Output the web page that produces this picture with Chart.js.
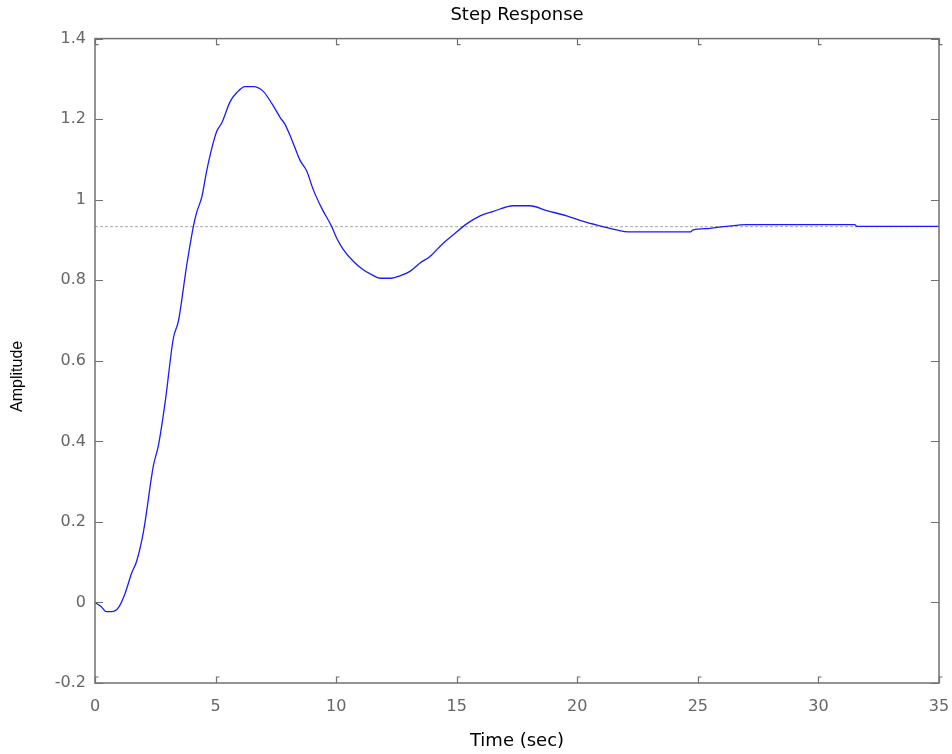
<!DOCTYPE html>
<html>
<head>
<meta charset="utf-8">
<title>Step Response</title>
<script src="https://cdn.jsdelivr.net/npm/chart.js@4"></script>
<style>
  html, body { margin: 0; padding: 0; background: #fff; }
  #wrap { width: 952px; height: 754px; }
</style>
</head>
<body>
<div id="wrap"><canvas id="stepChart" width="952" height="754"></canvas></div>
<script>
// Values
const timeValues = [0, 0.25, 0.48, 0.69, 0.97, 1.24, 1.52, 1.73, 2.01, 2.42, 2.63, 2.90, 3.25, 3.46, 3.80,
  4.08, 4.22, 4.43, 4.63, 4.84, 5.05, 5.26, 5.60, 5.88, 6.22, 6.57, 6.98, 7.33, 7.68, 7.88, 8.16, 8.51,
  8.78, 9.05, 9.40, 9.81, 10.02, 10.30, 10.71, 11.12, 11.47, 11.82, 12.30, 12.65, 13.06, 13.48, 13.89,
  14.44, 14.86, 15.41, 15.97, 16.52, 17.35, 18.04, 18.73, 19.56, 20.25, 20.94, 21.63, 22.12, 24.67,
  24.81, 25.5, 26.2, 27.03, 31.5, 31.6, 35];
const amplitudeValues = [0, -0.01, -0.023, -0.023, -0.013, 0.021, 0.073, 0.103, 0.176, 0.339, 0.39, 0.493,
  0.656, 0.699, 0.836, 0.934, 0.969, 1.007, 1.071, 1.127, 1.17, 1.191, 1.243, 1.266, 1.281, 1.281, 1.269,
  1.239, 1.204, 1.187, 1.149, 1.097, 1.071, 1.025, 0.979, 0.934, 0.905, 0.876, 0.847, 0.826, 0.814, 0.805,
  0.805, 0.811, 0.822, 0.843, 0.859, 0.892, 0.913, 0.94, 0.96, 0.971, 0.985, 0.985, 0.973, 0.96, 0.946,
  0.935, 0.925, 0.92, 0.92, 0.925, 0.929, 0.934, 0.938, 0.938, 0.934, 0.934];
const steadyStateTimes = [0, 35];
const steadyStateValues = [0.933, 0.933];
const xTickValues = [0, 5, 10, 15, 20, 25, 30, 35];
const yTickLabels = ['-0.2', '0', '0.2', '0.4', '0.6', '0.8', '1', '1.2', '1.4'];

const AXIS_COLOR = '#707070';
const TICK_LEN = 6;

// MATLAB style box with inward ticks on all four sides
const boxTicks = {
  id: 'boxTicks',
  afterDatasetsDraw(chart) {
    const { ctx, chartArea: a, scales } = chart;
    ctx.save();
    ctx.strokeStyle = AXIS_COLOR;
    ctx.lineWidth = 1.5;
    ctx.strokeRect(a.left, a.top, a.right - a.left, a.bottom - a.top);
    ctx.lineWidth = 1.2;
    ctx.beginPath();
    scales.x.ticks.forEach(t => {
      const px = Math.round(scales.x.getPixelForValue(t.value)) + 0.5;
      ctx.moveTo(px, a.bottom); ctx.lineTo(px, a.bottom - TICK_LEN); ctx.lineTo(px + 3, a.bottom - TICK_LEN);
      ctx.moveTo(px, a.top); ctx.lineTo(px, a.top + TICK_LEN); ctx.lineTo(px + 3, a.top + TICK_LEN);
    });
    scales.y.ticks.forEach(t => {
      const py = Math.round(scales.y.getPixelForValue(t.value)) + 0.5;
      ctx.moveTo(a.left, py); ctx.lineTo(a.left + TICK_LEN + 2, py);
      ctx.moveTo(a.right, py); ctx.lineTo(a.right - TICK_LEN - 2, py);
    });
    ctx.stroke();
    ctx.restore();
  }
};

new Chart(document.getElementById('stepChart'), {
  type: 'line',
  data: {
    datasets: [
      {
        label: 'Steady state',
        data: steadyStateTimes.map((t, i) => ({ x: t, y: steadyStateValues[i] })),
        borderColor: '#a8a8a8',
        borderWidth: 1,
        borderDash: [3, 2],
        pointRadius: 0,
        order: 2
      },
      {
        label: 'Step',
        data: timeValues.map((t, i) => ({ x: t, y: amplitudeValues[i] })),
        borderColor: '#1a1aff',
        borderWidth: 1.3,
        pointRadius: 0,
        cubicInterpolationMode: 'monotone',
        order: 1
      }
    ]
  },
  options: {
    responsive: false,
    animation: false,
    events: [],
    layout: { padding: { left: 0, right: 13, top: 0, bottom: 0 } },
    plugins: {
      legend: { display: false },
      tooltip: { enabled: false },
      title: {
        display: true,
        fullSize: false,
        text: 'Step Response',
        color: '#000',
        font: { family: 'DejaVu Sans', size: 18, weight: 'normal' },
        padding: { top: 5, bottom: 12 }
      }
    },
    scales: {
      x: {
        type: 'linear',
        min: 0,
        max: 35,
        afterFit: s => { s.height = 71; s.paddingLeft = 0; s.paddingRight = 0; },
        afterBuildTicks: s => { s.ticks = xTickValues.map(v => ({ value: v })); },
        grid: { display: false, drawTicks: false },
        border: { display: false },
        ticks: {
          color: '#666',
          font: { family: 'DejaVu Sans', size: 16 },
          padding: 14,
          maxRotation: 0,
          callback: v => String(v)
        },
        title: {
          display: true,
          text: 'Time (sec)',
          color: '#000',
          font: { family: 'DejaVu Sans', size: 18 },
          padding: { top: 0, bottom: 2 }
        }
      },
      y: {
        min: -0.2,
        max: 1.4,
        afterFit: s => { s.width = 95; s.paddingTop = 0; s.paddingBottom = 0; },
        afterBuildTicks: s => { s.ticks = yTickLabels.map(l => ({ value: parseFloat(l) })); },
        grid: { display: false, drawTicks: false },
        border: { display: false },
        ticks: {
          color: '#666',
          font: { family: 'DejaVu Sans', size: 16 },
          padding: 9,
          callback: v => yTickLabels.find(l => Math.abs(parseFloat(l) - v) < 1e-9)
        },
        title: {
          display: true,
          // trailing spaces push the visible word a little below the axis centre, as in the picture
          text: 'Amplitude       ',
          color: '#000',
          font: { family: 'Liberation Sans', size: 16 },
          padding: { top: 8, bottom: 0 }
        }
      }
    }
  },
  plugins: [boxTicks]
});
</script>
</body>
</html>
